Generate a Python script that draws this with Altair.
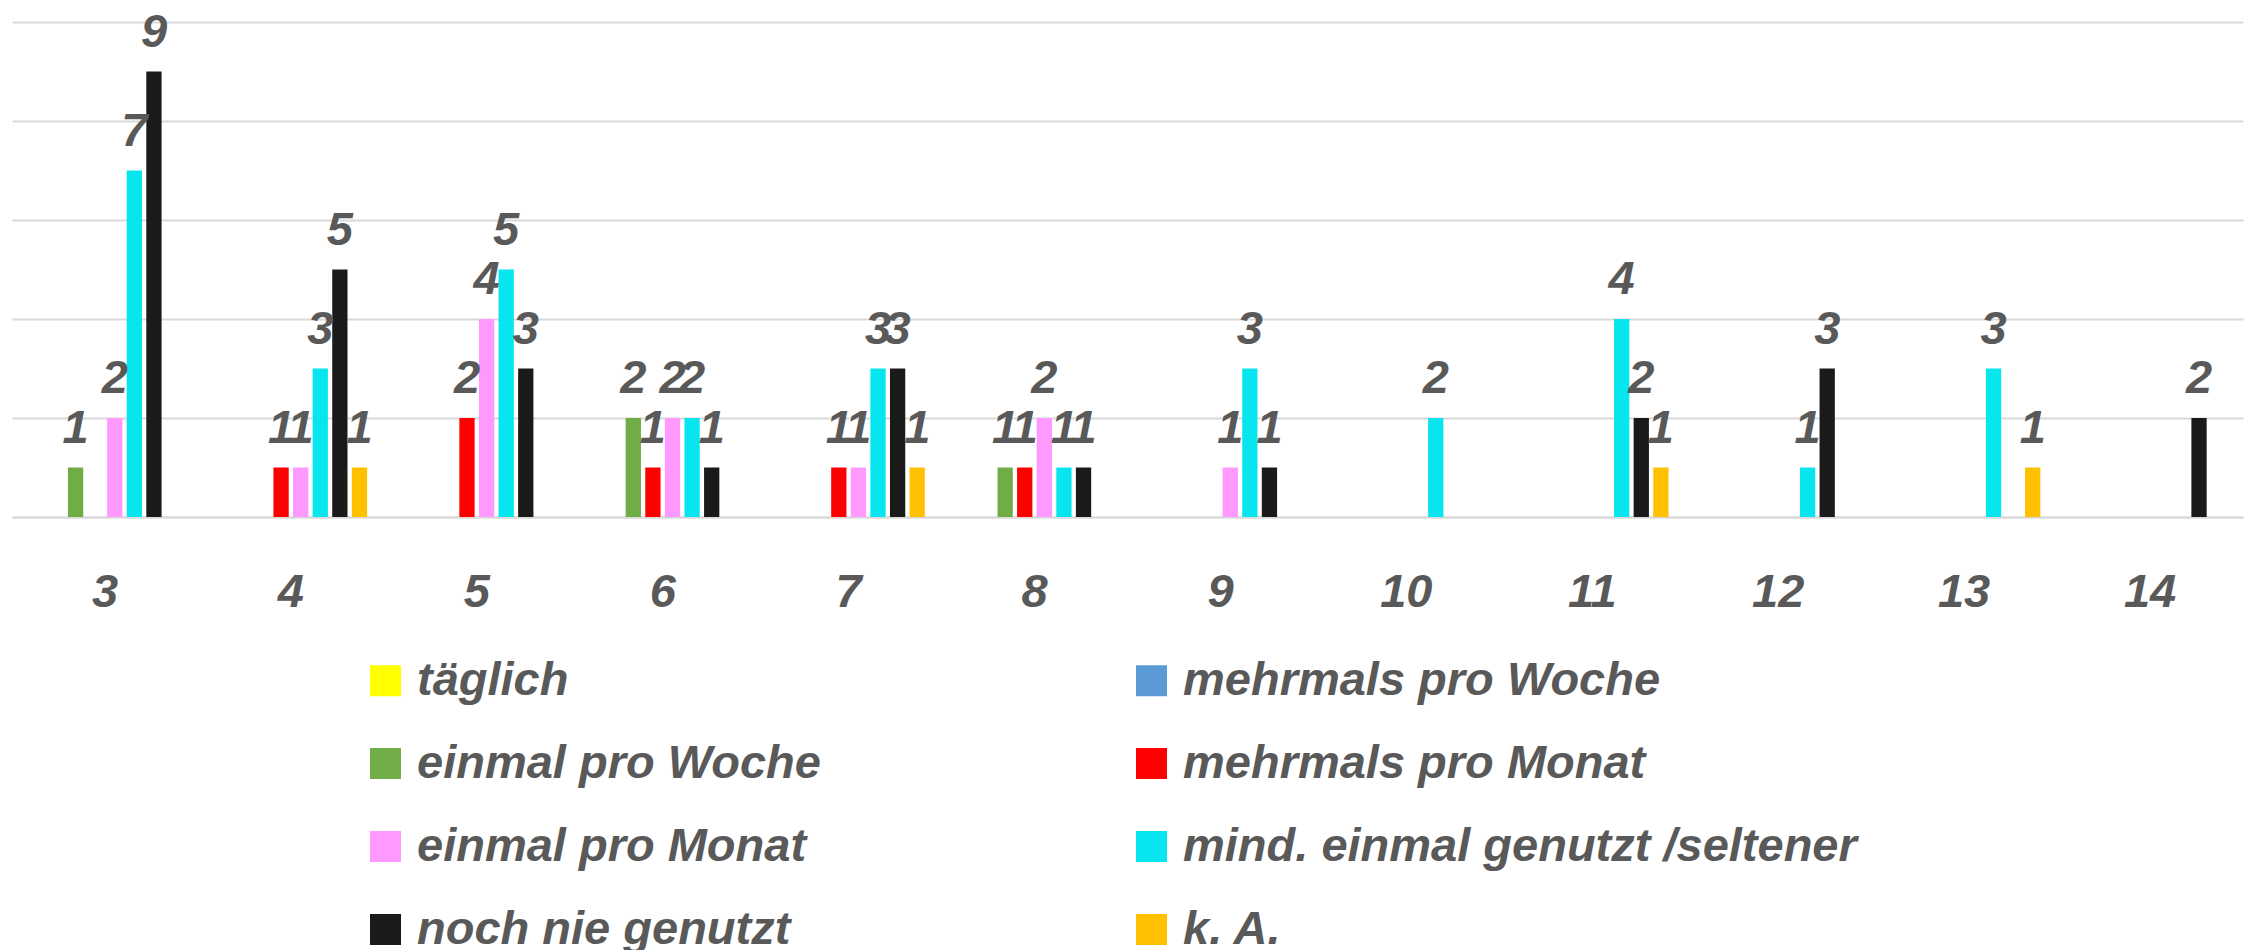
import altair as alt
import pandas as pd

categories = [3, 4, 5, 6, 7, 8, 9, 10, 11, 12, 13, 14]
series = [
    "täglich",
    "mehrmals pro Woche",
    "einmal pro Woche",
    "mehrmals pro Monat",
    "einmal pro Monat",
    "mind. einmal genutzt /seltener",
    "noch nie genutzt",
    "k. A.",
]
colors = ["#FFFF00", "#5B9BD5", "#70AD47", "#FF0000", "#FF99FF", "#07E6EE", "#1A1A1A", "#FFC000"]

taeglich = [0, 0, 0, 0, 0, 0, 0, 0, 0, 0, 0, 0]
mehrmals_woche = [0, 0, 0, 0, 0, 0, 0, 0, 0, 0, 0, 0]
einmal_woche = [1, 0, 0, 2, 0, 1, 0, 0, 0, 0, 0, 0]
mehrmals_monat = [0, 1, 2, 1, 1, 1, 0, 0, 0, 0, 0, 0]
einmal_monat = [2, 1, 4, 2, 1, 2, 1, 0, 0, 0, 0, 0]
seltener = [7, 3, 5, 2, 3, 1, 3, 2, 4, 1, 3, 0]
nie = [9, 5, 3, 1, 3, 1, 1, 0, 2, 3, 0, 2]
k_a = [0, 1, 0, 0, 1, 0, 0, 0, 1, 0, 1, 0]

values = [taeglich, mehrmals_woche, einmal_woche, mehrmals_monat, einmal_monat, seltener, nie, k_a]

rows = []
for s, vals in zip(series, values):
    for c, v in zip(categories, vals):
        rows.append({"cat": c, "series": s, "value": v})
df = pd.DataFrame(rows)

# legend fills column by column: reorder so it reads row by row like the original
legend_order = series[0::2] + series[1::2]
legend_colors = [colors[series.index(s)] for s in legend_order]

FONT = "Liberation Sans"
GREY = "#595959"

x = alt.X("cat:O", title=None,
          scale=alt.Scale(paddingInner=0.18, paddingOuter=0.09),
          axis=alt.Axis(labelAngle=0, labelFont=FONT, labelFontSize=47, labelFontWeight="bold",
                        labelFontStyle="italic", labelColor=GREY, labelPadding=52, ticks=False,
                        tickSize=0, domainColor="#D9D9D9", domainWidth=2, grid=False))
xo = alt.XOffset("series:N", sort=series,
                 scale=alt.Scale(domain=series, paddingInner=0.22, paddingOuter=0))
y = alt.Y("value:Q", title=None,
          scale=alt.Scale(domain=[0, 10], nice=False),
          axis=alt.Axis(values=[0, 2, 4, 6, 8, 10], labels=False, ticks=False, domain=False,
                        grid=True, gridColor="#D9D9D9", gridWidth=2))

base = alt.Chart(df).transform_filter("datum.value > 0")

bars = base.mark_bar(strokeWidth=0).encode(
    x=x, xOffset=xo, y=y,
    color=alt.Color("series:N",
                    scale=alt.Scale(domain=legend_order, range=legend_colors),
                    legend=alt.Legend(orient="none", legendX=350, legendY=635, columns=2,
                                      columnPadding=307, rowPadding=35, symbolType="square",
                                      symbolSize=961, symbolStrokeWidth=0, symbolOpacity=1,
                                      labelFont=FONT, labelFontSize=47, labelFontWeight="bold",
                                      labelFontStyle="italic", labelColor=GREY, labelOffset=8,
                                      labelLimit=0, title=None, padding=0)),
)

labels = base.mark_text(font=FONT, fontSize=47, fontWeight="bold", fontStyle="italic",
                        color=GREY, baseline="alphabetic", align="center", dy=-25).encode(
    x=x, xOffset=xo, y=y, text=alt.Text("value:Q"),
)

chart = alt.layer(bars, labels).properties(
    width=2231, height=495,
    autosize=alt.AutoSizeParams(type="none"),
    padding={"left": 4, "top": 14, "right": 1, "bottom": 433},
    background="white",
).configure_view(stroke=None)

chart.save("out.html", embed_options={"renderer": "svg", "actions": False})
